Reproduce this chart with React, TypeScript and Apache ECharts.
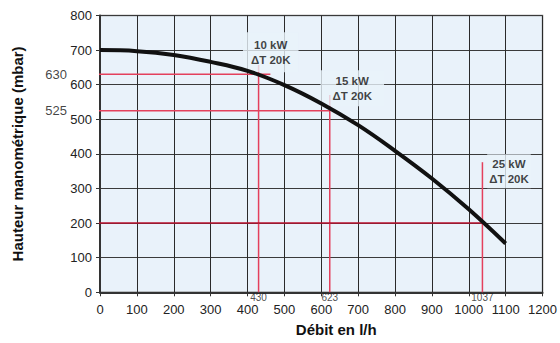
import React, { useEffect, useRef } from "react";
import * as echarts from "echarts";

const flow = [0, 100, 200, 300, 400, 500, 600, 700, 800, 900, 1000, 1100];
const head = [700, 697, 686, 666, 640, 599, 546, 483, 409, 329, 240, 141];

// reference operating points
const refFlows = [430, 623, 1037];
const refHeads = [630, 525, 200];
const refPowers = ["10 kW", "15 kW", "25 kW"];
const deltaT = "ΔT 20K";
// label anchor positions (data coords)
const labelX = [463, 684, 1109];
const labelY = [694, 590, 350];
// extents of red guide lines (data coords)
const hStart = [-80, -80, -10];
const hEnd = [462, 623, 1037];
const vTop = [657, 570, 376];

const xTicks = [0, 1200, 100];
const yTicks = [0, 800, 100];

const FONT = "Arial, 'Liberation Sans', sans-serif";
const RED = "#e4405c";
const DARKRED = "#b8102e";

export default function App() {
  const ref = useRef<HTMLDivElement>(null);
  useEffect(() => {
    const chart = echarts.init(ref.current!, null, { renderer: "svg" });
    const series: any[] = [];
    refFlows.forEach((f, i) => {
      const col = i === 2 ? DARKRED : RED;
      series.push({
        type: "line",
        data: [[hStart[i], refHeads[i]], [hEnd[i], refHeads[i]]],
        symbol: "none",
        clip: false,
        z: 3,
        lineStyle: { color: col, width: 1.5 },
        silent: true,
      });
      series.push({
        type: "line",
        data: [[f, 0], [f, vTop[i]]],
        symbol: "none",
        clip: false,
        z: 3,
        lineStyle: { color: RED, width: 1.5 },
        silent: true,
      });
    });
    const hidden = { color: "rgba(0,0,0,0)" };
    // left side labels 630 / 525
    series.push({
      type: "scatter",
      clip: false,
      symbolSize: 1,
      itemStyle: hidden,
      z: 5,
      data: [
        { value: [-80, refHeads[0]], name: String(refHeads[0]) },
        { value: [-80, refHeads[1]], name: String(refHeads[1]) },
      ],
      label: {
        show: true,
        position: "left",
        distance: 3,
        formatter: (p: any) => p.name,
        color: "#111",
        fontFamily: FONT,
        fontSize: 13,
      },
    });
    // bottom small labels
    series.push({
      type: "scatter",
      clip: false,
      symbolSize: 1,
      itemStyle: hidden,
      z: 5,
      data: refFlows.map((f) => ({ value: [f, 0], name: String(f) })),
      label: {
        show: true,
        position: "bottom",
        distance: 0,
        formatter: (p: any) => p.name,
        color: "#222",
        fontFamily: FONT,
        fontSize: 10,
        lineHeight: 10,
      },
    });
    // power labels boxes
    const pads = [
      [5, 8],
      [3, 12],
      [2, 2],
    ];
    series.push({
      type: "scatter",
      clip: false,
      symbolSize: 1,
      itemStyle: hidden,
      z: 3,
      data: refPowers.map((p, i) => ({
        value: [labelX[i], labelY[i]],
        name: p,
        label: { padding: pads[i] },
      })),
      label: {
        show: true,
        position: "inside",
        formatter: (p: any) => p.name + "\n" + deltaT,
        color: "#111",
        fontFamily: FONT,
        fontWeight: "bold",
        fontSize: 11.5,
        lineHeight: 15,
        align: "center",
        backgroundColor: "#e9f2fa",
      },
    });
    series.push({
      type: "line",
      data: flow.map((f, i) => [f, head[i]]),
      smooth: 0.4,
      symbol: "none",
      z: 6,
      lineStyle: { color: "#111", width: 4, cap: "butt" },
    });

    chart.setOption({
      animation: false,
      grid: {
        left: 100,
        right: 14,
        top: 15.5,
        bottom: 50.7,
        show: true,
        backgroundColor: "#e9f2fa",
        borderColor: "#888",
        borderWidth: 1.5,
      },
      xAxis: {
        type: "value",
        min: xTicks[0],
        max: xTicks[1],
        interval: xTicks[2],
        name: "Débit en l/h",
        nameLocation: "middle",
        nameGap: 30,
        nameTextStyle: {
          fontFamily: FONT,
          fontWeight: "bold",
          fontSize: 15,
          color: "#111",
          padding: [0, 0, 0, 30],
        },
        axisLine: { show: true, lineStyle: { color: "#333", width: 2 } },
        axisTick: { show: true, length: 4, lineStyle: { color: "#333" } },
        axisLabel: {
          margin: 11,
          color: "#222",
          fontFamily: FONT,
          fontSize: 13,
          formatter: (v: number) => String(v),
        },
        splitLine: { show: true, lineStyle: { color: "#2a2a2a", width: 1 } },
      },
      yAxis: {
        type: "value",
        min: yTicks[0],
        max: yTicks[1],
        interval: yTicks[2],
        name: "Hauteur manométrique (mbar)",
        nameLocation: "middle",
        nameGap: 75,
        nameTextStyle: {
          fontFamily: FONT,
          fontWeight: "bold",
          fontSize: 15,
          color: "#111",
        },
        axisLine: { show: true, lineStyle: { color: "#333", width: 2 } },
        axisTick: { show: true, length: 4, lineStyle: { color: "#333" } },
        axisLabel: {
          margin: 8,
          color: "#222",
          fontFamily: FONT,
          fontSize: 13,
          formatter: (v: number) => String(v),
        },
        splitLine: { show: true, lineStyle: { color: "#3a3a3a", width: 1 } },
      },
      series,
    });
    return () => chart.dispose();
  }, []);
  return <div ref={ref} style={{ width: 560, height: 343, position: "absolute", left: 0, top: 0 }} />;
}
